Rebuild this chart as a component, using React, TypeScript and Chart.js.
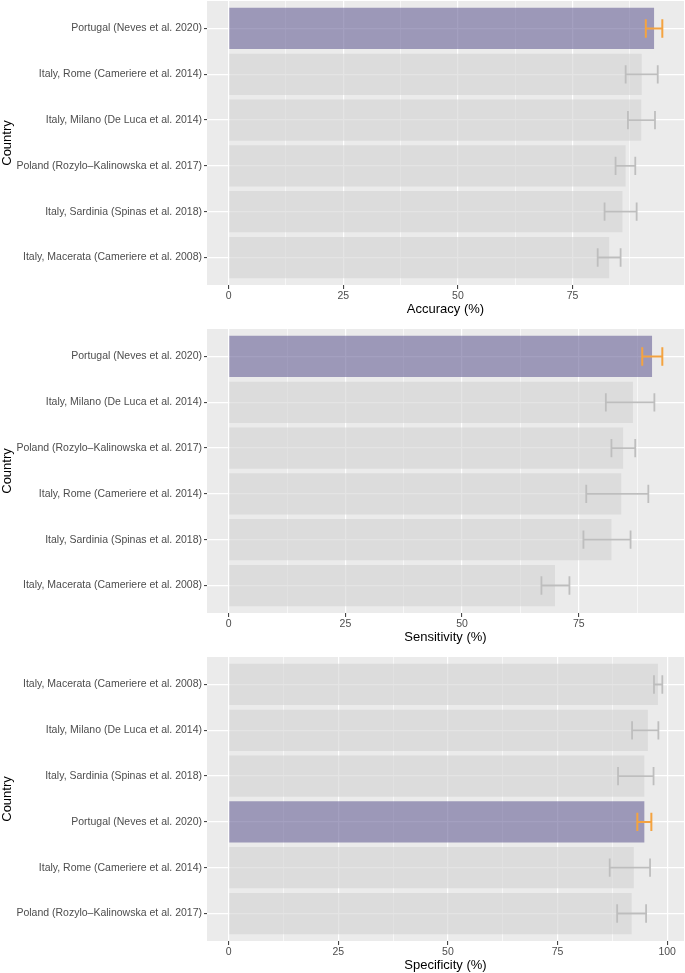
import React, { useEffect, useRef } from 'react';
import { Chart, registerables } from 'chart.js';
Chart.register(...registerables);

const FONT = "'Liberation Sans', Arial, Helvetica, sans-serif";
const HIGHLIGHT = 'Portugal (Neves et al. 2020)';

// Accuracy panel
const accCountries = [
  'Portugal (Neves et al. 2020)',
  'Italy, Rome (Cameriere et al. 2014)',
  'Italy, Milano (De Luca et al. 2014)',
  'Poland (Rozylo–Kalinowska et al. 2017)',
  'Italy, Sardinia (Spinas et al. 2018)',
  'Italy, Macerata (Cameriere et al. 2008)',
];
const accValues = [92.8, 90.1, 90.0, 86.6, 85.9, 83.0];
const accLower = [91.0, 86.6, 87.1, 84.4, 82.0, 80.5];
const accUpper = [94.6, 93.6, 93.0, 88.7, 89.0, 85.5];

// Sensitivity panel
const sensCountries = [
  'Portugal (Neves et al. 2020)',
  'Italy, Milano (De Luca et al. 2014)',
  'Poland (Rozylo–Kalinowska et al. 2017)',
  'Italy, Rome (Cameriere et al. 2014)',
  'Italy, Sardinia (Spinas et al. 2018)',
  'Italy, Macerata (Cameriere et al. 2008)',
];
const sensValues = [90.7, 86.6, 84.5, 84.1, 82.0, 69.9];
const sensLower = [88.6, 80.8, 82.0, 76.6, 76.0, 67.0];
const sensUpper = [92.9, 91.2, 87.1, 89.9, 86.1, 73.0];

// Specificity panel
const specCountries = [
  'Italy, Macerata (Cameriere et al. 2008)',
  'Italy, Milano (De Luca et al. 2014)',
  'Italy, Sardinia (Spinas et al. 2018)',
  'Portugal (Neves et al. 2020)',
  'Italy, Rome (Cameriere et al. 2014)',
  'Poland (Rozylo–Kalinowska et al. 2017)',
];
const specValues = [97.9, 95.6, 94.8, 94.8, 92.4, 91.9];
const specLower = [97.0, 92.0, 88.8, 93.2, 86.9, 88.6];
const specUpper = [98.9, 98.0, 96.9, 96.4, 96.1, 95.2];

const majorTicks = [0, 25, 50, 75, 100];
const minorTicks = [12.5, 37.5, 62.5, 87.5];

const PURPLE = 'rgba(104, 96, 150, 0.6)';
const GREY_BAR = 'rgba(210, 210, 210, 0.6)';
const ORANGE = '#F4A340';
const GREY_ERR = '#BEBEBE';
const PANEL_BG = '#EBEBEB';
const TICK_TEXT = '#4D4D4D';

const bgPlugin = {
  id: 'panelBg',
  beforeDraw(chart: any) {
    const { ctx, chartArea: a } = chart;
    ctx.save();
    ctx.fillStyle = PANEL_BG;
    ctx.fillRect(a.left, a.top, a.right - a.left, a.bottom - a.top);
    ctx.restore();
  },
};

function makeErrPlugin(countries: string[], lower: number[], upper: number[]) {
  return {
    id: 'errBars',
    afterDatasetsDraw(chart: any) {
      const { ctx } = chart;
      const xs = chart.scales.x;
      const ys = chart.scales.y;
      ctx.save();
      countries.forEach((c, i) => {
        const y = ys.getPixelForValue(i);
        const half = Math.abs(ys.getPixelForValue(i + 0.2) - y);
        const x1 = xs.getPixelForValue(lower[i]);
        const x2 = xs.getPixelForValue(upper[i]);
        const hl = c === HIGHLIGHT;
        ctx.strokeStyle = hl ? ORANGE : GREY_ERR;
        ctx.lineWidth = hl ? 2 : 1.8;
        ctx.beginPath();
        ctx.moveTo(x1, y);
        ctx.lineTo(x2, y);
        ctx.moveTo(x1, y - half);
        ctx.lineTo(x1, y + half);
        ctx.moveTo(x2, y - half);
        ctx.lineTo(x2, y + half);
        ctx.stroke();
      });
      ctx.restore();
    },
  };
}

type PanelProps = {
  top: number;
  height: number;
  padTop: number;
  countries: string[];
  values: number[];
  lower: number[];
  upper: number[];
  title: string;
};

function Panel(p: PanelProps) {
  const ref = useRef<HTMLCanvasElement>(null);
  useEffect(() => {
    const maxU = Math.max(...p.upper);
    const xMin = -0.05 * maxU;
    const xMax = 1.05 * maxU;
    const tickVals = [...majorTicks, ...minorTicks]
      .filter((v) => v >= xMin && v <= xMax)
      .sort((a, b) => a - b);
    const isMajor = (v: number) => majorTicks.includes(v);
    const chart = new Chart(ref.current as HTMLCanvasElement, {
      type: 'bar',
      data: {
        datasets: [
          {
            data: p.values.map((v, i) => ({ x: v, y: i })) as any,
            backgroundColor: p.countries.map((c) => (c === HIGHLIGHT ? PURPLE : GREY_BAR)),
            borderWidth: 0,
            barPercentage: 0.9,
            categoryPercentage: 1,
          },
        ],
      },
      options: {
        indexAxis: 'y',
        animation: false,
        responsive: false,
        maintainAspectRatio: false,
        layout: { padding: { top: p.padTop, right: 1, bottom: 0, left: 0 } },
        plugins: { legend: { display: false }, tooltip: { enabled: false } },
        scales: {
          x: {
            type: 'linear',
            min: xMin,
            max: xMax,
            afterBuildTicks: (s: any) => {
              s.ticks = tickVals.map((v) => ({ value: v }));
            },
            afterFit: (s: any) => {
              s.height = 32;
              s.paddingLeft = 0;
              s.paddingRight = 0;
            },
            ticks: {
              autoSkip: false,
              maxRotation: 0,
              padding: 1,
              color: TICK_TEXT,
              font: { family: FONT, size: 10.5 },
              callback: (v: any) => (isMajor(v) ? String(v) : ''),
            },
            grid: {
              color: '#FFFFFF',
              lineWidth: (ctx: any) => (isMajor(ctx.tick?.value) ? 1.2 : 0.6),
              tickColor: (ctx: any) => (isMajor(ctx.tick?.value) ? '#333333' : 'rgba(0,0,0,0)'),
              tickLength: 4,
              tickWidth: 1,
              drawTicks: true,
            },
            border: { display: false },
            title: {
              display: true,
              text: p.title,
              color: '#000000',
              font: { family: FONT, size: 13 },
              padding: 0,
            },
          },
          y: {
            type: 'linear',
            reverse: true,
            min: -0.6,
            max: p.countries.length - 0.4,
            offset: false,
            afterBuildTicks: (s: any) => {
              s.ticks = p.countries.map((_, i) => ({ value: i }));
            },
            afterFit: (s: any) => {
              s.width = 207;
              s.paddingTop = 0;
              s.paddingBottom = 0;
            },
            ticks: {
              autoSkip: false,
              padding: 2,
              color: TICK_TEXT,
              font: { family: FONT, size: 10.5 },
              callback: (v: any) => p.countries[v] ?? '',
            },
            grid: {
              offset: false,
              color: '#FFFFFF',
              lineWidth: 1.2,
              tickColor: '#333333',
              tickLength: 3,
              tickWidth: 1,
            },
            border: { display: false },
            title: {
              display: true,
              text: 'Country',
              color: '#000000',
              font: { family: FONT, size: 13 },
              padding: 0,
            },
          },
        } as any,
      },
      plugins: [bgPlugin, makeErrPlugin(p.countries, p.lower, p.upper)],
    } as any);
    return () => chart.destroy();
  }, []);
  return (
    <div style={{ position: 'absolute', top: p.top, left: 0, width: 685, height: p.height }}>
      <canvas ref={ref} width={685} height={p.height} style={{ display: 'block', width: 685, height: p.height }} />
    </div>
  );
}

export default function App() {
  return (
    <div style={{ position: 'absolute', top: 0, left: 0, width: 685, height: 973, overflow: 'hidden', background: '#FFFFFF' }}>
      <Panel top={0} height={317} padTop={1} countries={accCountries} values={accValues} lower={accLower} upper={accUpper} title="Accuracy (%)" />
      <Panel top={317} height={328} padTop={12} countries={sensCountries} values={sensValues} lower={sensLower} upper={sensUpper} title="Sensitivity (%)" />
      <Panel top={645} height={328} padTop={12} countries={specCountries} values={specValues} lower={specLower} upper={specUpper} title="Specificity (%)" />
    </div>
  );
}
